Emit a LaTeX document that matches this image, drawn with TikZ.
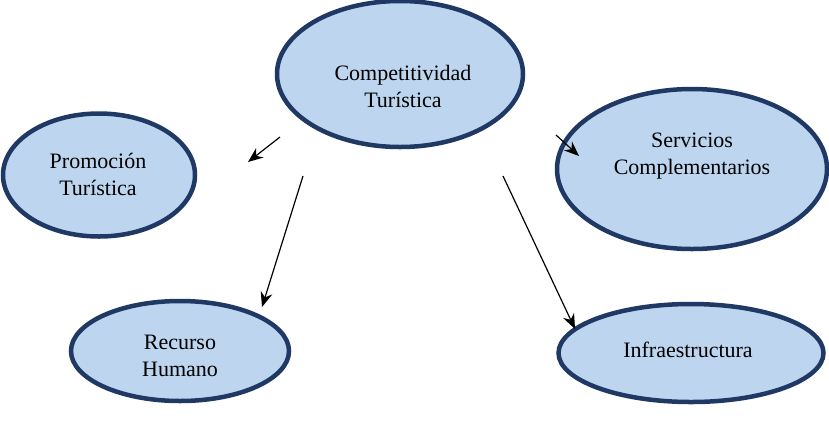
\documentclass[tikz,border=0pt]{standalone}
\usepackage{fontspec}
\setmainfont{Liberation Serif}
\usetikzlibrary{shapes.geometric,arrows.meta}
\definecolor{bordeazul}{HTML}{1F3864}
\definecolor{rellenoazul}{HTML}{BDD5EE}
\tikzset{
  burbuja/.style={ellipse, draw=bordeazul, fill=rellenoazul, line width=4.5pt, inner sep=0pt},
  texto/.style={align=center, font=\fontsize{22}{27}\selectfont},
}
\begin{document}
\begin{tikzpicture}[x=1pt, y=-1pt, >={Stealth[length=15pt,width=12pt]}]
\useasboundingbox (0,0) rectangle (829,432);
\node[burbuja, minimum width=246pt, minimum height=146pt] (comp) at (400,74) {};
\node[burbuja, minimum width=192pt, minimum height=123pt] (prom) at (99,175) {};
\node[burbuja, minimum width=270pt, minimum height=160pt] (serv) at (692,169) {};
\node[burbuja, minimum width=218pt, minimum height=100pt] (recu) at (180,351) {};
\node[burbuja, minimum width=265pt, minimum height=98pt] (infr) at (691,353) {};
\node[texto] (compt) at (403,86) {Competitividad\\Turística};
\node[texto] (promt) at (98,174) {Promoción\\Turística};
\node[texto] (servt) at (692,156) {Servicios\\Complementarios};
\node[texto] (recut) at (180,356) {Recurso\\Humano};
\node[texto] (infrt) at (688,350) {Infraestructura};
% flechas
\coordinate (a1) at (280,137);
\coordinate (b1) at (248,162);
\coordinate (a2) at (303,176);
\coordinate (b2) at (262,307);
\coordinate (a3) at (503,176);
\coordinate (b3) at (575,329);
\coordinate (a4) at (556,135);
\coordinate (b4) at (579,156);
\draw[->, line width=1.2pt] (a1) -- (b1);
\draw[->, line width=1.2pt] (a2) -- (b2);
\draw[->, line width=1.2pt] (a3) -- (b3);
\draw[->, line width=1.2pt] (a4) -- (b4);
\end{tikzpicture}
\end{document}
